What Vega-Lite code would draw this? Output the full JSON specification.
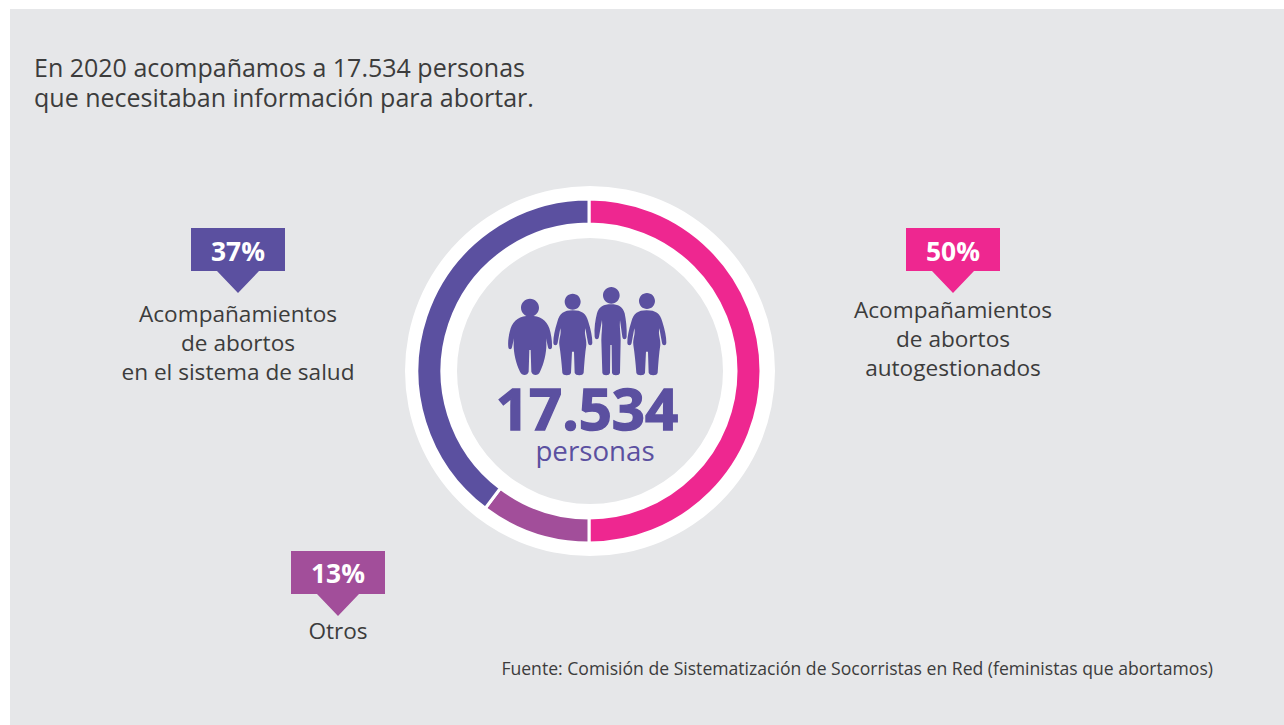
{"$schema":"https://vega.github.io/schema/vega-lite/v6.json","autosize":{"type":"fit","contains":"padding"},"width":1284,"height":725,"padding":0,"background":"#ffffff","config":{"view":{"stroke":null},"text":{"font":"Open Sans","lineBreak":"\n"}},
"datasets":{"sectores":[{"categoria":"Acompañamientos de abortos autogestionados","porcentaje":50,"arco":50,"orden":1},{"categoria":"Otros","porcentaje":13,"arco":10.3,"orden":2},{"categoria":"Acompañamientos de abortos en el sistema de salud","porcentaje":37,"arco":39.7,"orden":3}],"fondo":[{"elemento":"fondo"}],"personas":[{"persona":"1"},{"persona":"2"},{"persona":"3"},{"persona":"4"}]},
"layer":[
{"data":{"name":"fondo"},"mark":{"type":"rect"},"encoding":{"x":{"datum":10,"type":"quantitative","scale":{"domain":[0,1284],"nice":false,"zero":false},"axis":null},"x2":{"datum":1284},"y":{"datum":9,"type":"quantitative","scale":{"domain":[725,0],"nice":false,"zero":false},"axis":null},"y2":{"datum":725},"color":{"value":"#e6e7e9"}}},
{"data":{"name":"fondo"},"mark":{"type":"arc","radius":185,"radius2":133,"theta":0,"theta2":6.2832,"fill":"#ffffff"},"encoding":{"x":{"datum":590},"y":{"datum":371}}},
{"data":{"name":"sectores"},"mark":{"type":"arc","radius":172,"radius2":147,"stroke":"#ffffff","strokeWidth":3},"encoding":{"x":{"datum":589},"y":{"datum":371},"theta":{"field":"arco","type":"quantitative","stack":true,"scale":{"domain":[0,100]}},"order":{"field":"orden"},"color":{"field":"categoria","type":"nominal","legend":null,"scale":{"domain":["Acompañamientos de abortos autogestionados","Otros","Acompañamientos de abortos en el sistema de salud"],"range":["#ee2790","#a24e9a","#5b50a0"]}}}},
{"data":{"name":"personas"},"mark":{"type":"point","filled":true,"opacity":1,"size":0.4444,"color":"#5b50a0"},"encoding":{"x":{"datum":490},"y":{"datum":270},"shape":{"field":"persona","type":"nominal","legend":null,"scale":{"domain":["1","2","3","4"],"range":[
"M93,113 a27,27 0 1,1 54,0 a27,27 0 1,1 -54,0 Z M120,137 C150,137 170,150 178,175 C184,195 187,215 186,232 C185,240 175,240 174,232 L168,205 C172,235 165,275 150,305 C145,318 128,318 124,305 L122,240 L118,240 L116,305 C112,318 96,318 90,305 C75,275 68,235 72,205 L66,232 C65,240 56,240 55,232 C53,215 56,195 62,175 C70,150 90,137 120,137 Z",
"M224,95 a24,24 0 1,1 48,0 a24,24 0 1,1 -48,0 Z M248,121 C275,121 288,130 295,155 C303,180 307,200 307,218 C307,228 295,228 294,218 L286,175 C282,195 290,205 289,225 C285,250 283,280 281,308 C280,318 256,318 254,308 L252,245 L246,245 L243,308 C242,318 218,318 217,308 C215,280 212,250 208,225 C206,205 215,195 211,175 L203,218 C202,228 190,228 190,218 C190,200 194,180 202,155 C209,130 222,121 248,121 Z",
"M339,76 a25,25 0 1,1 50,0 a25,25 0 1,1 -50,0 Z M363,103 C385,103 398,110 404,130 C408,150 411,175 410,200 C409,210 398,210 397,200 L390,150 C388,170 392,190 392,210 L390,308 C389,318 367,318 366,308 L365,225 L361,225 L360,308 C359,318 338,318 337,308 L334,210 C334,190 338,170 336,150 L327,200 C326,210 315,210 314,200 C312,175 316,150 321,130 C327,110 341,103 363,103 Z",
"M447,93 a24,24 0 1,1 48,0 a24,24 0 1,1 -48,0 Z M470,121 C497,121 510,130 517,155 C525,180 529,200 529,218 C529,228 517,228 516,218 L508,175 C504,195 512,205 511,225 C507,250 505,280 503,308 C502,318 478,318 476,308 L474,245 L468,245 L465,308 C464,318 440,318 439,308 C437,280 434,250 430,225 C428,205 437,195 433,175 L425,218 C424,228 412,228 412,218 C412,200 416,180 424,155 C431,130 444,121 470,121 Z"]}}}},
{"data":{"values":[{"texto":"17.534"}]},"mark":{"type":"text","fontSize":58,"fontWeight":"bold","align":"center","baseline":"alphabetic","color":"#5b50a0","stroke":"#5b50a0","strokeWidth":1.4},"encoding":{"x":{"datum":587},"y":{"datum":430},"text":{"field":"texto"}}},
{"data":{"values":[{"texto":"personas"}]},"mark":{"type":"text","fontSize":27.7,"align":"center","baseline":"alphabetic","color":"#5b50a0"},"encoding":{"x":{"datum":595},"y":{"datum":461},"text":{"field":"texto"}}},
{"data":{"values":[{"texto":"En 2020 acompañamos a 17.534 personas\nque necesitaban información para abortar."}]},"mark":{"type":"text","fontSize":25,"lineHeight":30,"align":"left","baseline":"alphabetic","color":"#3c3c3c"},"encoding":{"x":{"datum":34},"y":{"datum":77},"text":{"field":"texto"}}},
{"data":{"values":[{"texto":"Fuente: Comisión de Sistematización de Socorristas en Red (feministas que abortamos)"}]},"mark":{"type":"text","fontSize":17.6,"align":"right","baseline":"alphabetic","color":"#3c3c3c"},"encoding":{"x":{"datum":1213},"y":{"datum":675},"text":{"field":"texto"}}},
{"data":{"name":"sectores"},"transform":[{"filter":"datum.orden===3"},{"calculate":"datum.porcentaje+'%'","as":"pct"}],"encoding":{"x":{"datum":238}},"layer":[
{"mark":{"type":"point","filled":true,"opacity":1,"size":4,"shape":"M-47,-32 H47 V11 H21 L0,33 L-21,11 H-47 Z","color":"#5b50a0"},"encoding":{"y":{"datum":260}}},
{"mark":{"type":"text","fontSize":26.4,"fontWeight":"bold","align":"center","baseline":"alphabetic","color":"#ffffff"},"encoding":{"y":{"datum":261},"text":{"field":"pct"}}},
{"data":{"values":[{"texto":"Acompañamientos\nde abortos\nen el sistema de salud"}]},"transform":[],"mark":{"type":"text","fontSize":22.6,"lineHeight":29,"align":"center","baseline":"alphabetic","color":"#3c3c3c"},"encoding":{"y":{"datum":322},"text":{"field":"texto"}}}]},
{"data":{"name":"sectores"},"transform":[{"filter":"datum.orden===1"},{"calculate":"datum.porcentaje+'%'","as":"pct"}],"encoding":{"x":{"datum":953}},"layer":[
{"mark":{"type":"point","filled":true,"opacity":1,"size":4,"shape":"M-47,-32 H47 V11 H21 L0,33 L-21,11 H-47 Z","color":"#ee2790"},"encoding":{"y":{"datum":260}}},
{"mark":{"type":"text","fontSize":26.4,"fontWeight":"bold","align":"center","baseline":"alphabetic","color":"#ffffff"},"encoding":{"y":{"datum":261},"text":{"field":"pct"}}},
{"data":{"values":[{"texto":"Acompañamientos\nde abortos\nautogestionados"}]},"transform":[],"mark":{"type":"text","fontSize":22.6,"lineHeight":29,"align":"center","baseline":"alphabetic","color":"#3c3c3c"},"encoding":{"y":{"datum":318},"text":{"field":"texto"}}}]},
{"data":{"name":"sectores"},"transform":[{"filter":"datum.orden===2"},{"calculate":"datum.porcentaje+'%'","as":"pct"}],"encoding":{"x":{"datum":338}},"layer":[
{"mark":{"type":"point","filled":true,"opacity":1,"size":4,"shape":"M-47,-32 H47 V11 H21 L0,33 L-21,11 H-47 Z","color":"#a24e9a"},"encoding":{"y":{"datum":583}}},
{"mark":{"type":"text","fontSize":26.4,"fontWeight":"bold","align":"center","baseline":"alphabetic","color":"#ffffff"},"encoding":{"y":{"datum":583},"text":{"field":"pct"}}},
{"data":{"values":[{"texto":"Otros"}]},"transform":[],"mark":{"type":"text","fontSize":22.6,"align":"center","baseline":"alphabetic","color":"#3c3c3c"},"encoding":{"y":{"datum":639},"text":{"field":"texto"}}}]}
]}
